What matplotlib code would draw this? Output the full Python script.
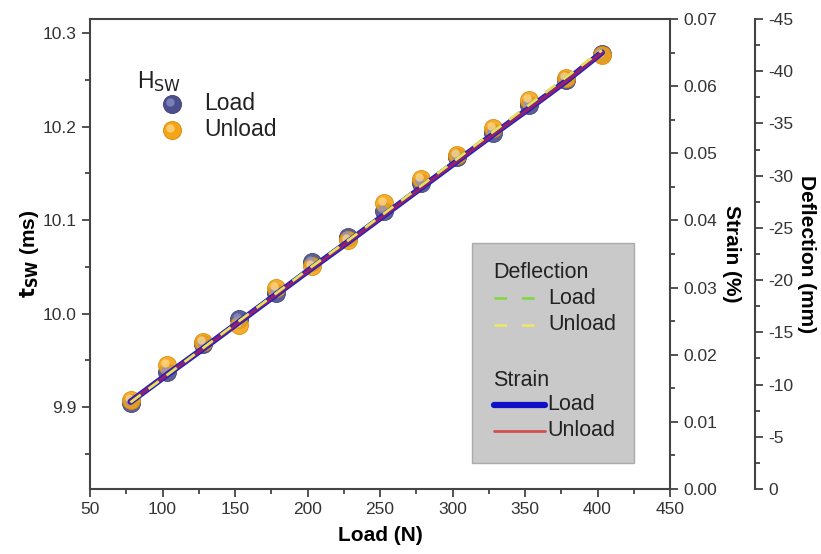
import matplotlib
matplotlib.use("Agg")
import matplotlib.pyplot as plt
from matplotlib.ticker import MultipleLocator, FormatStrFormatter
from matplotlib.lines import Line2D
from matplotlib.patches import Rectangle

plt.rcParams['font.family'] = ['Liberation Sans', 'DejaVu Sans']
plt.rcParams['axes.unicode_minus'] = False

# ---- data ----
load_n = [78, 103, 128, 153, 178, 203, 228, 253, 278, 303, 328, 353, 378, 403]
tsw_load = [9.904, 9.938, 9.967, 9.994, 10.022, 10.055, 10.082, 10.110,
            10.140, 10.167, 10.193, 10.223, 10.250, 10.278]
tsw_unload = [9.908, 9.945, 9.970, 9.988, 10.027, 10.051, 10.079, 10.118,
              10.144, 10.170, 10.198, 10.228, 10.252, 10.276]
strain_load = [0.0130, 0.0170, 0.0209, 0.0249, 0.0289, 0.0329, 0.0368,
               0.0408, 0.0448, 0.0488, 0.0528, 0.0567, 0.0607, 0.0650]
strain_unload = [0.0130, 0.0170, 0.0209, 0.0249, 0.0289, 0.0329, 0.0368,
                 0.0408, 0.0448, 0.0488, 0.0528, 0.0567, 0.0607, 0.0650]
defl_load = [-8.3, -10.9, -13.5, -16.1, -18.7, -21.3, -23.8, -26.4,
             -29.0, -31.6, -34.2, -36.8, -39.4, -42.0]
defl_unload = [-8.3, -10.9, -13.5, -16.1, -18.7, -21.3, -23.8, -26.4,
               -29.0, -31.6, -34.2, -36.8, -39.4, -42.0]

W, H = 821, 554
fig = plt.figure(figsize=(W / 100, H / 100), dpi=100)
L, R, T, B = 90, 670, 19, 489
ax = fig.add_axes([L / W, 1 - B / H, (R - L) / W, (B - T) / H])

spine_col = '#444444'
tick_col = '#333333'
fs_tick = 12.5
fs_lab = 15

def style(a):
    for s in a.spines.values():
        s.set_color(spine_col)
        s.set_linewidth(1.5)
    a.tick_params(which='both', direction='out', colors=spine_col,
                  labelcolor=tick_col, labelsize=fs_tick, width=1.3)
    a.tick_params(which='major', length=6)
    a.tick_params(which='minor', length=3.5)

# sphere-like markers
def sphere(a, x, y, base, hi, edge):
    a.plot(x, y, 'o', ms=13, color=base, mec=edge, mew=0.6, alpha=0.9, zorder=2)
    a.plot(x, y, 'o', ms=6, color=hi, mec='none', alpha=0.75, zorder=2.1,
           transform=a.transData + matplotlib.transforms.ScaledTranslation(-1.5/72, 1.5/72, fig.dpi_scale_trans))

sphere(ax, load_n, tsw_load, '#4b4f8c', '#8d91c7', '#3a3d70')
sphere(ax, load_n, tsw_unload, '#f4a418', '#ffd98a', '#d88a00')

ax.set_xlim(50, 450)
ax.set_ylim(9.8125, 10.315)
ax.xaxis.set_major_locator(MultipleLocator(50))
ax.xaxis.set_minor_locator(MultipleLocator(25))
ax.yaxis.set_major_locator(MultipleLocator(0.1))
ax.yaxis.set_minor_locator(MultipleLocator(0.05))
ax.yaxis.set_major_formatter(FormatStrFormatter('%.1f'))
ax.spines['right'].set_visible(False)
style(ax)
ax.set_xlabel('Load (N)', fontsize=fs_lab, fontweight='bold', labelpad=6)
ax.set_ylabel(r'$\mathbf{t_{SW}}$ (ms)', fontsize=fs_lab, fontweight='bold', labelpad=1)

# strain axis
ax2 = ax.twinx()
ax2.set_ylim(0, 0.07)
ax2.yaxis.set_major_locator(MultipleLocator(0.01))
ax2.yaxis.set_minor_locator(MultipleLocator(0.005))
ax2.yaxis.set_major_formatter(FormatStrFormatter('%.2f'))
for k in ['top', 'left', 'bottom']:
    ax2.spines[k].set_visible(False)
style(ax2)
ax2.set_ylabel('Strain (%)', fontsize=fs_lab, fontweight='bold', rotation=270, labelpad=17)
ax2.plot(load_n, strain_load, color='#2020c0', lw=4.5, solid_capstyle='round', zorder=3)
ax2.plot(load_n, strain_unload, color='#b0205a', lw=2.5, alpha=0.8, zorder=4)

# deflection axis
ax3 = ax.twinx()
ax3.spines['right'].set_position(('outward', 85 * 72 / 100))
ax3.set_ylim(0, -45)
ax3.yaxis.set_major_locator(MultipleLocator(5))
ax3.yaxis.set_minor_locator(MultipleLocator(2.5))
for k in ['top', 'left', 'bottom']:
    ax3.spines[k].set_visible(False)
style(ax3)
ax3.set_ylabel('Deflection (mm)', fontsize=fs_lab, fontweight='bold', rotation=270, labelpad=16)
ax3.plot(load_n, defl_load, color='#7cd83c', lw=1.8, dashes=(5, 4), zorder=5)
ax3.plot(load_n, defl_unload, color='#e8e060', lw=1.8, dashes=(5, 4), zorder=5)

# ---- legend 1 (H_SW) ----
ft = fig.transFigure
def fx(px): return px / W
def fy(py): return 1 - py / H
lfs1 = 16.5
fig.text(fx(137), fy(82), r'H$_{\mathrm{SW}}$', fontsize=lfs1, color='#222222', va='center', ha='left')
for py, base, hi, edge, lab in [(104, '#4b4f8c', '#8d91c7', '#3a3d70', 'Load'),
                                 (130, '#f4a418', '#ffd98a', '#d88a00', 'Unload')]:
    fig.add_artist(Line2D([fx(172)], [fy(py)], marker='o', ms=13, color=base, mec=edge, mew=0.6,
                          transform=ft, ls='none'))
    fig.add_artist(Line2D([fx(170)], [fy(py - 2)], marker='o', ms=6, color=hi, mec='none', alpha=0.75,
                          transform=ft, ls='none'))
    fig.text(fx(204), fy(py), lab, fontsize=lfs1, color='#222222', va='center', ha='left')

# ---- legend 2 box ----
fig.add_artist(Rectangle((fx(472), fy(463)), fx(634) - fx(472), fy(243) - fy(463),
                         transform=ft, facecolor='#c9c9c9', edgecolor='#aaaaaa', lw=1, zorder=10))
lfs = 15.5
fig.text(fx(493), fy(272), 'Deflection', fontsize=lfs, color='#222222', va='center', zorder=11)
for py, col, lab in [(298, '#7cd83c', 'Load'), (325, '#f0e860', 'Unload')]:
    fig.add_artist(Line2D([fx(494), fx(540)], [fy(py), fy(py)], color=col, lw=1.8, dashes=(5, 6),
                          transform=ft, zorder=11))
    fig.text(fx(548), fy(py), lab, fontsize=lfs, color='#222222', va='center', zorder=11)
fig.text(fx(493), fy(380), 'Strain', fontsize=lfs, color='#222222', va='center', zorder=11)
for py, col, lw, lab in [(405, '#1010c8', 4.5, 'Load'), (431, '#d05050', 2.0, 'Unload')]:
    fig.add_artist(Line2D([fx(494), fx(545)], [fy(py), fy(py)], color=col, lw=lw,
                          solid_capstyle='round', transform=ft, zorder=11))
    fig.text(fx(547), fy(py), lab, fontsize=lfs, color='#222222', va='center', zorder=11)

fig.savefig('out.png', dpi=100)
